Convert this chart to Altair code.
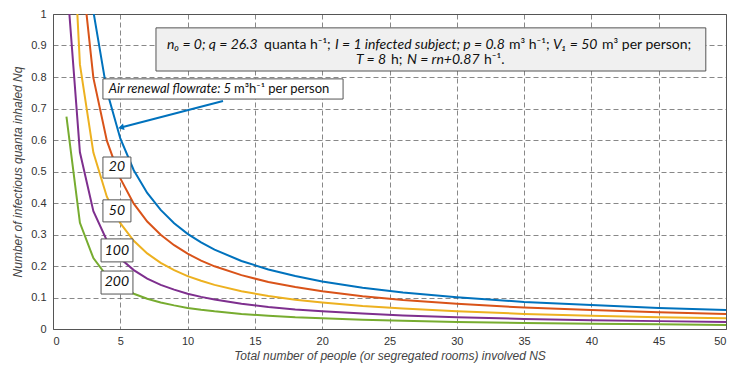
import altair as alt
import pandas as pd

# Number of people (or segregated rooms) NS
ns = [1, 2, 3, 4, 5, 6, 7, 8, 9, 10, 11, 12, 14, 16, 18, 20, 23, 26, 30, 35, 40, 45, 50]

# Nq for each air renewal flowrate (m3/h per person)
nq_5 = [3.024, 1.512, 1.008, 0.756, 0.605, 0.504, 0.432, 0.378, 0.336, 0.302, 0.275, 0.252,
        0.216, 0.189, 0.168, 0.151, 0.131, 0.116, 0.101, 0.086, 0.076, 0.067, 0.060]
nq_20 = [2.390, 1.195, 0.797, 0.598, 0.478, 0.398, 0.341, 0.299, 0.266, 0.239, 0.217, 0.199,
         0.171, 0.149, 0.133, 0.120, 0.104, 0.092, 0.080, 0.068, 0.060, 0.053, 0.048]
nq_50 = [1.680, 0.840, 0.560, 0.420, 0.336, 0.280, 0.240, 0.210, 0.187, 0.168, 0.153, 0.140,
         0.120, 0.105, 0.093, 0.084, 0.073, 0.065, 0.056, 0.048, 0.042, 0.037, 0.034]
nq_100 = [1.122, 0.561, 0.374, 0.281, 0.224, 0.187, 0.160, 0.140, 0.125, 0.112, 0.102, 0.094,
          0.080, 0.070, 0.062, 0.056, 0.049, 0.043, 0.037, 0.032, 0.028, 0.025, 0.022]
nq_200 = [0.674, 0.337, 0.225, 0.168, 0.135, 0.112, 0.096, 0.084, 0.075, 0.067, 0.061, 0.056,
          0.048, 0.042, 0.037, 0.034, 0.029, 0.026, 0.022, 0.019, 0.017, 0.015, 0.013]

series_names = ["5", "20", "50", "100", "200"]
series_values = [nq_5, nq_20, nq_50, nq_100, nq_200]
series_colors = ["#0072BD", "#D95319", "#EDB120", "#7E2F8E", "#77AC30"]

x_ticks = [0, 5, 10, 15, 20, 25, 30, 35, 40, 45, 50]
y_ticks = [0, 0.1, 0.2, 0.3, 0.4, 0.5, 0.6, 0.7, 0.8, 0.9, 1]

rows = []
for name, vals in zip(series_names, series_values):
    for x, y in zip(ns, vals):
        rows.append({"NS": x, "Nq": y, "flow": name})
df = pd.DataFrame(rows)

FONT = "Liberation Sans"
TFONT = "Lato"

xscale = alt.Scale(domain=[0, 50], nice=False, zero=False)
yscale = alt.Scale(domain=[0, 1], nice=False)

xaxis = alt.Axis(values=x_ticks, grid=True, gridDash=[5, 3], gridColor="#555", gridOpacity=0.7,
                 ticks=False, domain=False, labelFont=FONT, labelFontSize=11, labelColor="#333",
                 labelPadding=6, labelOverlap=False,
                 title="Total number of people (or segregated rooms) involved NS",
                 titleFont=FONT, titleFontStyle="italic", titleFontWeight="normal",
                 titleFontSize=12, titleColor="#444", titlePadding=4)
yaxis = alt.Axis(values=y_ticks, format="~g", grid=True, gridDash=[5, 3], gridColor="#555",
                 gridOpacity=0.7, ticks=False, domain=False, labelFont=FONT, labelFontSize=11,
                 labelColor="#333", labelPadding=7, labelOverlap=False,
                 title="Number of infectious quanta inhaled Nq", titleFont=FONT,
                 titleFontStyle="italic", titleFontWeight="normal", titleFontSize=12,
                 titleColor="#444", titlePadding=6)


def X(field):
    return alt.X(field, scale=xscale, axis=xaxis)


def Y(field):
    return alt.Y(field, scale=yscale, axis=yaxis)


lines = alt.Chart(df).mark_line(strokeWidth=2, clip=True).encode(
    x=X("NS:Q"),
    y=Y("Nq:Q"),
    color=alt.Color("flow:N", scale=alt.Scale(domain=series_names, range=series_colors),
                    legend=None),
    order=alt.Order("NS:Q"),
)

# Annotation boxes (data coordinates)
main_box = pd.DataFrame([{"x": 7.65, "x2": 48.5, "y": 0.819, "y2": 0.956}])
small_boxes = pd.DataFrame([
    {"x": 3.71, "x2": 21.55, "y": 0.730, "y2": 0.794},
    {"x": 3.71, "x2": 5.79, "y": 0.479, "y2": 0.546},
    {"x": 3.71, "x2": 5.79, "y": 0.340, "y2": 0.410},
    {"x": 3.57, "x2": 5.94, "y": 0.213, "y2": 0.286},
    {"x": 3.57, "x2": 5.94, "y": 0.111, "y2": 0.184},
])

main_rect = alt.Chart(main_box).mark_rect(fill="#f0f0f0", stroke="#555", strokeWidth=1).encode(
    x=X("x:Q"), x2="x2:Q", y=Y("y:Q"), y2="y2:Q")
small_rect = alt.Chart(small_boxes).mark_rect(fill="white", stroke="#555", strokeWidth=1).encode(
    x=X("x:Q"), x2="x2:Q", y=Y("y:Q"), y2="y2:Q")

# Main text segments: text, style, x start, y
seg_text = ["n₀ = 0; q = 26.3", "quanta h⁻¹;", "I = 1 infected subject; p = 0.8", "m³ h⁻¹;",
            "V₁ = 50", "m³ per person;", "T = 8", "h;", "N = rn+0.87", "h⁻¹."]
seg_style = ["italic", "normal", "italic", "normal", "italic", "normal",
             "italic", "normal", "italic", "normal"]
seg_x = [8.47, 15.68, 20.95, 33.88, 37.15, 40.79, 22.51, 25.11, 26.30, 32.02]
seg_y = [0.903, 0.903, 0.903, 0.903, 0.903, 0.903, 0.853, 0.853, 0.853, 0.853]
seg_df = pd.DataFrame({"t": seg_text, "s": seg_style, "x": seg_x, "y": seg_y})

seg_it = alt.Chart(seg_df[seg_df.s == "italic"]).mark_text(
    align="left", baseline="middle", font=TFONT, fontSize=14, fontStyle="italic",
    color="#111").encode(x=X("x:Q"), y=Y("y:Q"), text="t:N")
seg_no = alt.Chart(seg_df[seg_df.s == "normal"]).mark_text(
    align="left", baseline="middle", font=TFONT, fontSize=14, color="#111").encode(
    x=X("x:Q"), y=Y("y:Q"), text="t:N")

air_df = pd.DataFrame([{"x": 13.15, "y": 0.762}])
air_it = alt.Chart(air_df).mark_text(align="right", baseline="middle", font=TFONT, fontSize=13,
                                     fontStyle="italic", color="#111", dx=1).encode(
    x=X("x:Q"), y=Y("y:Q"), text=alt.value("Air renewal flowrate: 5"))
air_no = alt.Chart(air_df).mark_text(align="left", baseline="middle", font=TFONT, fontSize=13,
                                     color="#111", dx=4).encode(
    x=X("x:Q"), y=Y("y:Q"), text=alt.value("m³h⁻¹ per person"))

lab_df = pd.DataFrame({"t": ["20", "50", "100", "200"],
                       "x": [4.75, 4.75, 4.75, 4.75],
                       "y": [0.513, 0.375, 0.249, 0.148]})
labels = alt.Chart(lab_df).mark_text(align="center", baseline="middle", font=TFONT, fontSize=14,
                                     fontStyle="italic", color="#111").encode(
    x=X("x:Q"), y=Y("y:Q"), text="t:N")

arrow_df = pd.DataFrame({"x": [12.63, 5.12], "y": [0.724, 0.6406], "o": [0, 1]})
arrow_line = alt.Chart(arrow_df).mark_line(color="#0072BD", strokeWidth=2).encode(
    x=X("x:Q"), y=Y("y:Q"), order="o:Q")
arrow_head = alt.Chart(pd.DataFrame([{"x": 5.12, "y": 0.6406}])).mark_point(
    shape="triangle", size=45, filled=True, color="#0072BD", opacity=1, angle=256).encode(
    x=X("x:Q"), y=Y("y:Q"))

chart = alt.layer(
    lines, main_rect, seg_it, seg_no, arrow_line, arrow_head, small_rect,
    air_it, air_no, labels
).properties(
    width=673, height=315,
    autosize=alt.AutoSizeParams(type="none"),
    padding={"left": 53, "top": 14, "right": 14, "bottom": 39},
    background="white",
).configure_view(stroke="#555", strokeWidth=1)

chart.save("out.html", embed_options={"renderer": "svg", "actions": False})
